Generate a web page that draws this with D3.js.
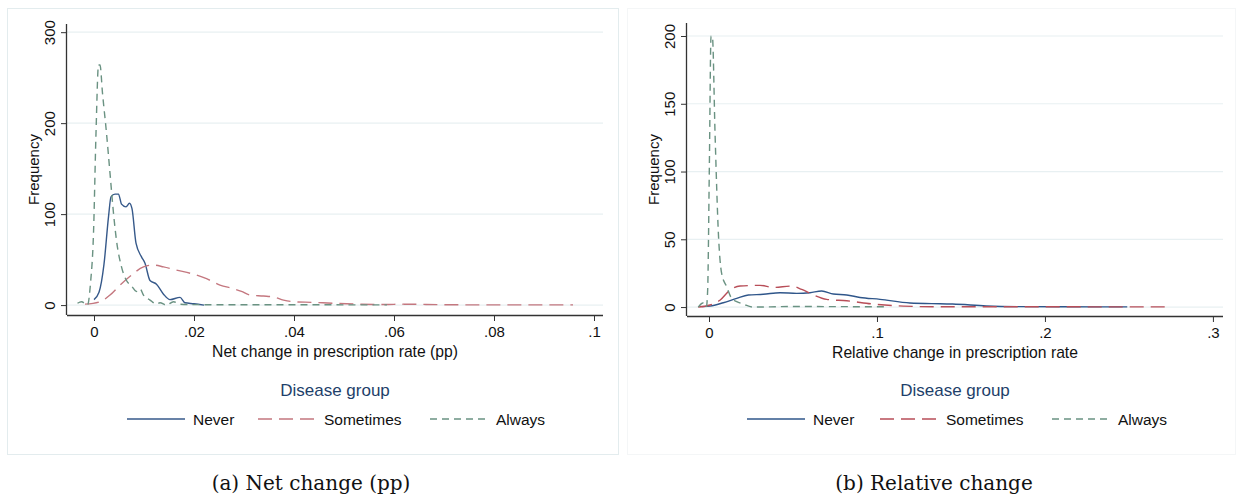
<!DOCTYPE html>
<html><head><meta charset="utf-8">
<script src="https://cdn.jsdelivr.net/npm/d3@7"></script>
<style>
html,body{margin:0;padding:0;background:#fff;}
svg{display:block;}
text{font-family:"Liberation Sans",Arial,sans-serif;}
</style></head>
<body>
<svg id="chart" width="1236" height="498"></svg>
<script>
// ---------- Data ----------
const seriesNames = ["Never", "Sometimes", "Always"];
const legendTitle = "Disease group";

// Panel (a): Net change (pp)
const netXTicks = [0, 0.02, 0.04, 0.06, 0.08, 0.1];
const netXTickLabels = ["0", ".02", ".04", ".06", ".08", ".1"];
const netYTicks = [0, 100, 200, 300];
const netNeverX = [0, 0.001, 0.002, 0.0029, 0.0034, 0.0042, 0.0049, 0.0055, 0.0064, 0.0071, 0.0076, 0.0084, 0.0095, 0.0102, 0.0112, 0.0125, 0.0139, 0.0152, 0.0172, 0.0182, 0.02, 0.022];
const netNeverY = [6, 14, 45, 97, 119, 122, 122, 111, 108, 112, 106, 68, 53, 46, 27, 23, 12, 6, 8.5, 2.5, 1.5, 0];
const netSometimesX = [-0.0018, 0.0012, 0.0032, 0.0052, 0.0075, 0.0099, 0.0119, 0.0139, 0.0165, 0.0199, 0.0225, 0.0252, 0.0279, 0.0295, 0.0312, 0.0339, 0.0359, 0.0379, 0.0399, 0.0435, 0.0479, 0.053, 0.058, 0.062, 0.07, 0.08, 0.0958];
const netSometimesY = [1, 3.7, 11, 22, 33, 42, 44, 42, 38.5, 34, 29, 22, 18, 15, 11, 10, 9, 5.5, 3.7, 3, 2, 1, 0.6, 1, 0.4, 0.2, 0.2];
const netAlwaysX = [-0.0033, -0.0025, -0.0013, -0.0007, -0.0001, 0.0004, 0.0009, 0.0012, 0.0017, 0.0025, 0.0032, 0.0039, 0.0045, 0.0055, 0.0065, 0.0075, 0.0085, 0.0092, 0.0099, 0.0112, 0.0125, 0.0132, 0.0145, 0.0159, 0.0172, 0.02, 0.03, 0.045, 0.0586];
const netAlwaysY = [2, 3.7, 0, 24, 79, 189, 264, 264, 233, 189, 145, 101, 71, 42, 27, 21, 15, 18, 11, 5.5, 1, 2.5, 0, 3.7, 1, 0.5, 0.3, 0.3, 0.2];

// Panel (b): Relative change
const relXTicks = [0, 0.1, 0.2, 0.3];
const relXTickLabels = ["0", ".1", ".2", ".3"];
const relYTicks = [0, 50, 100, 150, 200];
const relNeverX = [-0.004, 0.0006, 0.0085, 0.0165, 0.0234, 0.0323, 0.0423, 0.0522, 0.0601, 0.0671, 0.074, 0.082, 0.0899, 0.1018, 0.1196, 0.1375, 0.145, 0.165, 0.185, 0.21, 0.249];
const relNeverY = [0.3, 0.7, 3.2, 6.4, 8.9, 9.4, 10.6, 10.1, 10.6, 11.8, 9.6, 8.9, 7.1, 5.7, 3, 2.4, 2.2, 0.8, 0.3, 0.2, 0.1];
const relSometimesX = [-0.0064, 0.0006, 0.0065, 0.0125, 0.0185, 0.0304, 0.0383, 0.0492, 0.0552, 0.0621, 0.07, 0.082, 0.0978, 0.1157, 0.1375, 0.18, 0.2714];
const relSometimesY = [0, 1.5, 5, 12.5, 15.5, 16, 14.5, 15.5, 13, 9, 5.7, 4.6, 2.2, 0.7, 0.2, 0.2, 0.1];
const relAlwaysX = [-0.0064, -0.0036, -0.0016, -0.0008, 0.0002, 0.0012, 0.002, 0.0036, 0.0056, 0.0075, 0.0105, 0.0135, 0.0165, 0.0204, 0.0264, 0.05, 0.08, 0.105];
const relAlwaysY = [0, 3, 0, 12.5, 103, 200, 200, 128, 54, 25, 15, 6.4, 4, 2.2, 0, 0.4, 0.3, 0.2];

// ---------- Drawing ----------
const svg = d3.select("#chart");
const colors = ["#36598a", "#c4777f", "#6a9282"];
const colorsB = ["#2f568a", "#b84e58", "#6a9282"];
const dashes = [null, "14,7", "7,5"];

function panel(cfg) {
  const g = svg.append("g");
  g.append("rect").attr("x", cfg.frame[0]).attr("y", cfg.frame[1])
    .attr("width", cfg.frame[2]).attr("height", cfg.frame[3])
    .attr("fill", "none").attr("stroke", cfg.frameColor).attr("stroke-width", 1);

  const x = d3.scaleLinear().domain(cfg.xDomain).range([cfg.left, cfg.right]);
  const y = d3.scaleLinear().domain(cfg.yDomain).range([cfg.bottom, cfg.top]);

  g.append("g").selectAll("line").data(cfg.yTicks).join("line")
    .attr("x1", cfg.left).attr("x2", cfg.right)
    .attr("y1", d => y(d)).attr("y2", d => y(d))
    .attr("stroke", "#e8f0f2").attr("stroke-width", 1.2);

  const line = d3.line().x(d => x(d[0])).y(d => y(d[1])).curve(d3.curveMonotoneX);
  cfg.series.forEach((s, i) => {
    const pts = s.x.map((v, j) => [v, s.y[j]]);
    g.append("path").datum(pts).attr("d", line)
      .attr("fill", "none").attr("stroke", cfg.colors[i]).attr("stroke-width", 1.4)
      .attr("stroke-dasharray", dashes[i]);
  });

  const yAxis = d3.axisLeft(y).tickValues(cfg.yTicks).tickSize(6).tickFormat(d3.format("d"));
  const ya = g.append("g").attr("transform", `translate(${cfg.left},0)`).call(yAxis);
  ya.select(".domain").attr("d", `M-0.5,${cfg.top}V${cfg.bottom}`).attr("stroke", "#333").attr("stroke-width", 1.3);
  ya.selectAll(".tick line").attr("stroke", "#333");
  ya.selectAll(".tick text").attr("transform", "rotate(-90)")
    .attr("x", 0).attr("y", -12).attr("dy", 0).attr("text-anchor", "middle")
    .style("font-size", "15px").attr("fill", "#111").style("font-family", '"Liberation Sans",Arial,sans-serif');

  const xAxis = d3.axisBottom(x).tickValues(cfg.xTicks).tickSize(6).tickFormat((d, i) => cfg.xTickLabels[i]);
  const xa = g.append("g").attr("transform", `translate(0,${cfg.bottom})`).call(xAxis);
  xa.select(".domain").attr("d", `M${cfg.left},0.5H${cfg.right}`).attr("stroke", "#333").attr("stroke-width", 1.3);
  xa.selectAll(".tick line").attr("stroke", "#333");
  xa.selectAll(".tick text").attr("y", 11).style("font-size", "15px").attr("fill", "#111")
    .style("font-family", '"Liberation Sans",Arial,sans-serif');

  g.append("text").attr("x", (cfg.left + cfg.right) / 2).attr("y", cfg.bottom + 42)
    .attr("text-anchor", "middle").style("font-size", "15.7px").attr("fill", "#111").text(cfg.xTitle);
  g.append("text").attr("transform", `translate(${cfg.left - 28},${(cfg.top + cfg.bottom) / 2}) rotate(-90)`)
    .attr("text-anchor", "middle").style("font-size", "15px").attr("fill", "#111").text("Frequency");

  g.append("text").attr("x", cfg.legendCenter).attr("y", 396).attr("text-anchor", "middle")
    .style("font-size", "17px").attr("fill", "#1e3f6a").text(legendTitle);
  cfg.legendPos.forEach((lx, i) => {
    g.append("line").attr("x1", lx).attr("x2", lx + 58).attr("y1", 419).attr("y2", 419)
      .attr("stroke", cfg.colors[i]).attr("stroke-width", 1.4).attr("stroke-dasharray", dashes[i]);
    g.append("text").attr("x", lx + 66).attr("y", 424.5).style("font-size", "15.5px").attr("fill", "#111").text(seriesNames[i]);
  });

  g.append("text").attr("x", cfg.captionX).attr("y", 490).attr("text-anchor", "middle")
    .style("font-family", '"DejaVu Serif","Liberation Serif",serif').style("font-size", "20px").attr("fill", "#111")
    .text(cfg.caption);
}

panel({
  frame: [7.5, 8.5, 611, 446], frameColor: "#e3ecee",
  left: 67, right: 603, top: 24, bottom: 315,
  xDomain: [-0.0054, 0.1018], yDomain: [-10.9, 309],
  xTicks: netXTicks, xTickLabels: netXTickLabels, yTicks: netYTicks,
  xTitle: "Net change in prescription rate (pp)",
  colors: colors,
  series: [
    {x: netNeverX, y: netNeverY},
    {x: netSometimesX, y: netSometimesY},
    {x: netAlwaysX, y: netAlwaysY}
  ],
  legendCenter: 335, legendPos: [127, 258, 430],
  caption: "(a) Net change (pp)", captionX: 311
});

panel({
  frame: [627.5, 8.5, 608, 446], frameColor: "#f4f6f7",
  left: 687, right: 1223, top: 23, bottom: 316,
  xDomain: [-0.0131, 0.306], yDomain: [-6.6, 209.6],
  xTicks: relXTicks, xTickLabels: relXTickLabels, yTicks: relYTicks,
  xTitle: "Relative change in prescription rate",
  colors: colorsB,
  series: [
    {x: relNeverX, y: relNeverY},
    {x: relSometimesX, y: relSometimesY},
    {x: relAlwaysX, y: relAlwaysY}
  ],
  legendCenter: 955, legendPos: [747, 880, 1052],
  caption: "(b) Relative change", captionX: 934
});
</script>
</body></html>
